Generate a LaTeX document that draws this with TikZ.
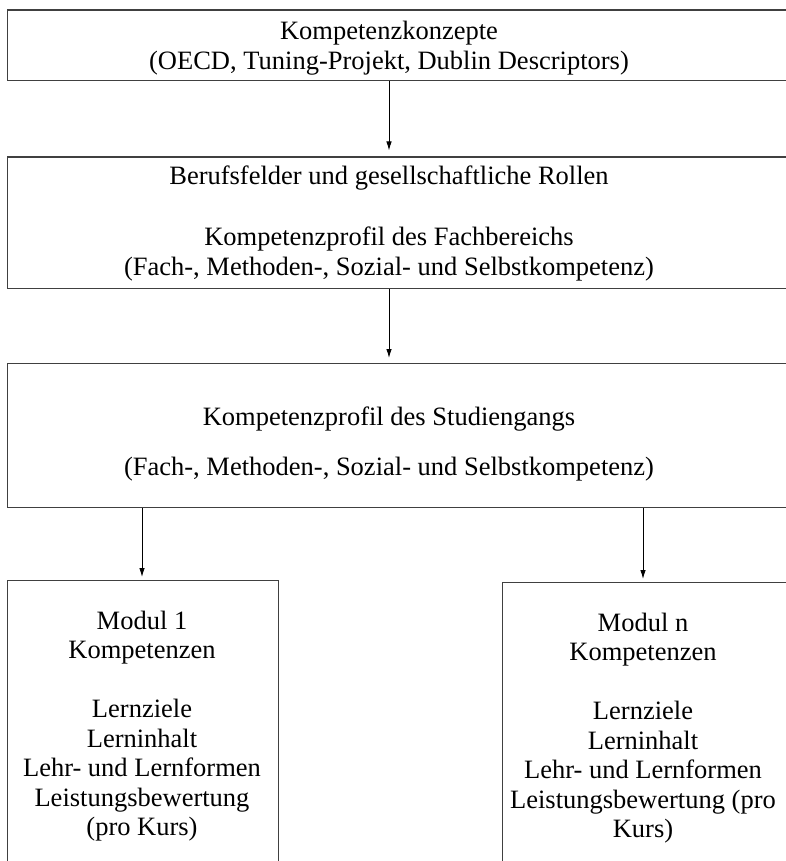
\documentclass[tikz,border=0pt]{standalone}
\usepackage{fontspec}
\setmainfont{Liberation Serif}
\usetikzlibrary{arrows.meta,calc,positioning}

\tikzset{
  rahmen/.style={draw=black!75, line width=1.3pt, inner sep=0pt, anchor=north west},
  txt/.style={align=center, font=\fontsize{26.5}{29.5}\selectfont, inner sep=0pt},
  pfeil/.style={-{Latex[length=9pt,width=5.5pt]}, line width=0.9pt},
}

\begin{document}
\begin{tikzpicture}[x=1pt,y=-1pt]
\useasboundingbox (0,0) rectangle (786,861);
\clip (0,0) rectangle (786,861);

% Rahmen
\node[rahmen, minimum width=800pt, minimum height=70.5pt] (konzepte) at (6.7,9.5) {};
\node[rahmen, minimum width=800pt, minimum height=131.5pt] (berufe) at (6.7,156.5) {};
\node[rahmen, minimum width=800pt, minimum height=144pt] (studium) at (6.7,363) {};
\node[rahmen, minimum width=271pt, minimum height=320pt] (modul1) at (6.7,580) {};
\node[rahmen, minimum width=330pt, minimum height=320pt] (moduln) at (502,582) {};

% Texte
\node[txt] (konzepte-t) at (389,48) {Kompetenzkonzepte\\(OECD, Tuning-Projekt, Dublin Descriptors)};
\node[txt] (berufe-t) at (389,223) {Berufsfelder und gesellschaftliche Rollen\\[32pt]
  Kompetenzprofil des Fachbereichs\\(Fach-, Methoden-, Sozial- und Selbstkompetenz)};
\node[txt] (studium-t) at (389,444) {Kompetenzprofil des Studiengangs\\[20.5pt]
  (Fach-, Methoden-, Sozial- und Selbstkompetenz)};
\node[txt] (modul1-t) at (142,726) {Modul 1\\Kompetenzen\\[29.5pt]Lernziele\\Lerninhalt\\
  Lehr- und Lernformen\\Leistungsbewertung\\(pro Kurs)};
\node[txt] (moduln-t) at (643,728) {Modul n\\Kompetenzen\\[29.5pt]Lernziele\\Lerninhalt\\
  Lehr- und Lernformen\\Leistungsbewertung (pro\\Kurs)};

% Pfeile
\draw[pfeil] (konzepte.south -| konzepte-t) -- ($(berufe.north -| konzepte-t)+(0,-6)$);
\draw[pfeil] (berufe.south -| konzepte-t) -- ($(studium.north -| konzepte-t)+(0,-5)$);
\draw[pfeil] (studium.south -| modul1-t) -- ($(modul1.north -| modul1-t)+(0,-3)$);
\draw[pfeil] (studium.south -| moduln-t) -- ($(moduln.north -| moduln-t)+(0,-3)$);

\end{tikzpicture}
\end{document}
